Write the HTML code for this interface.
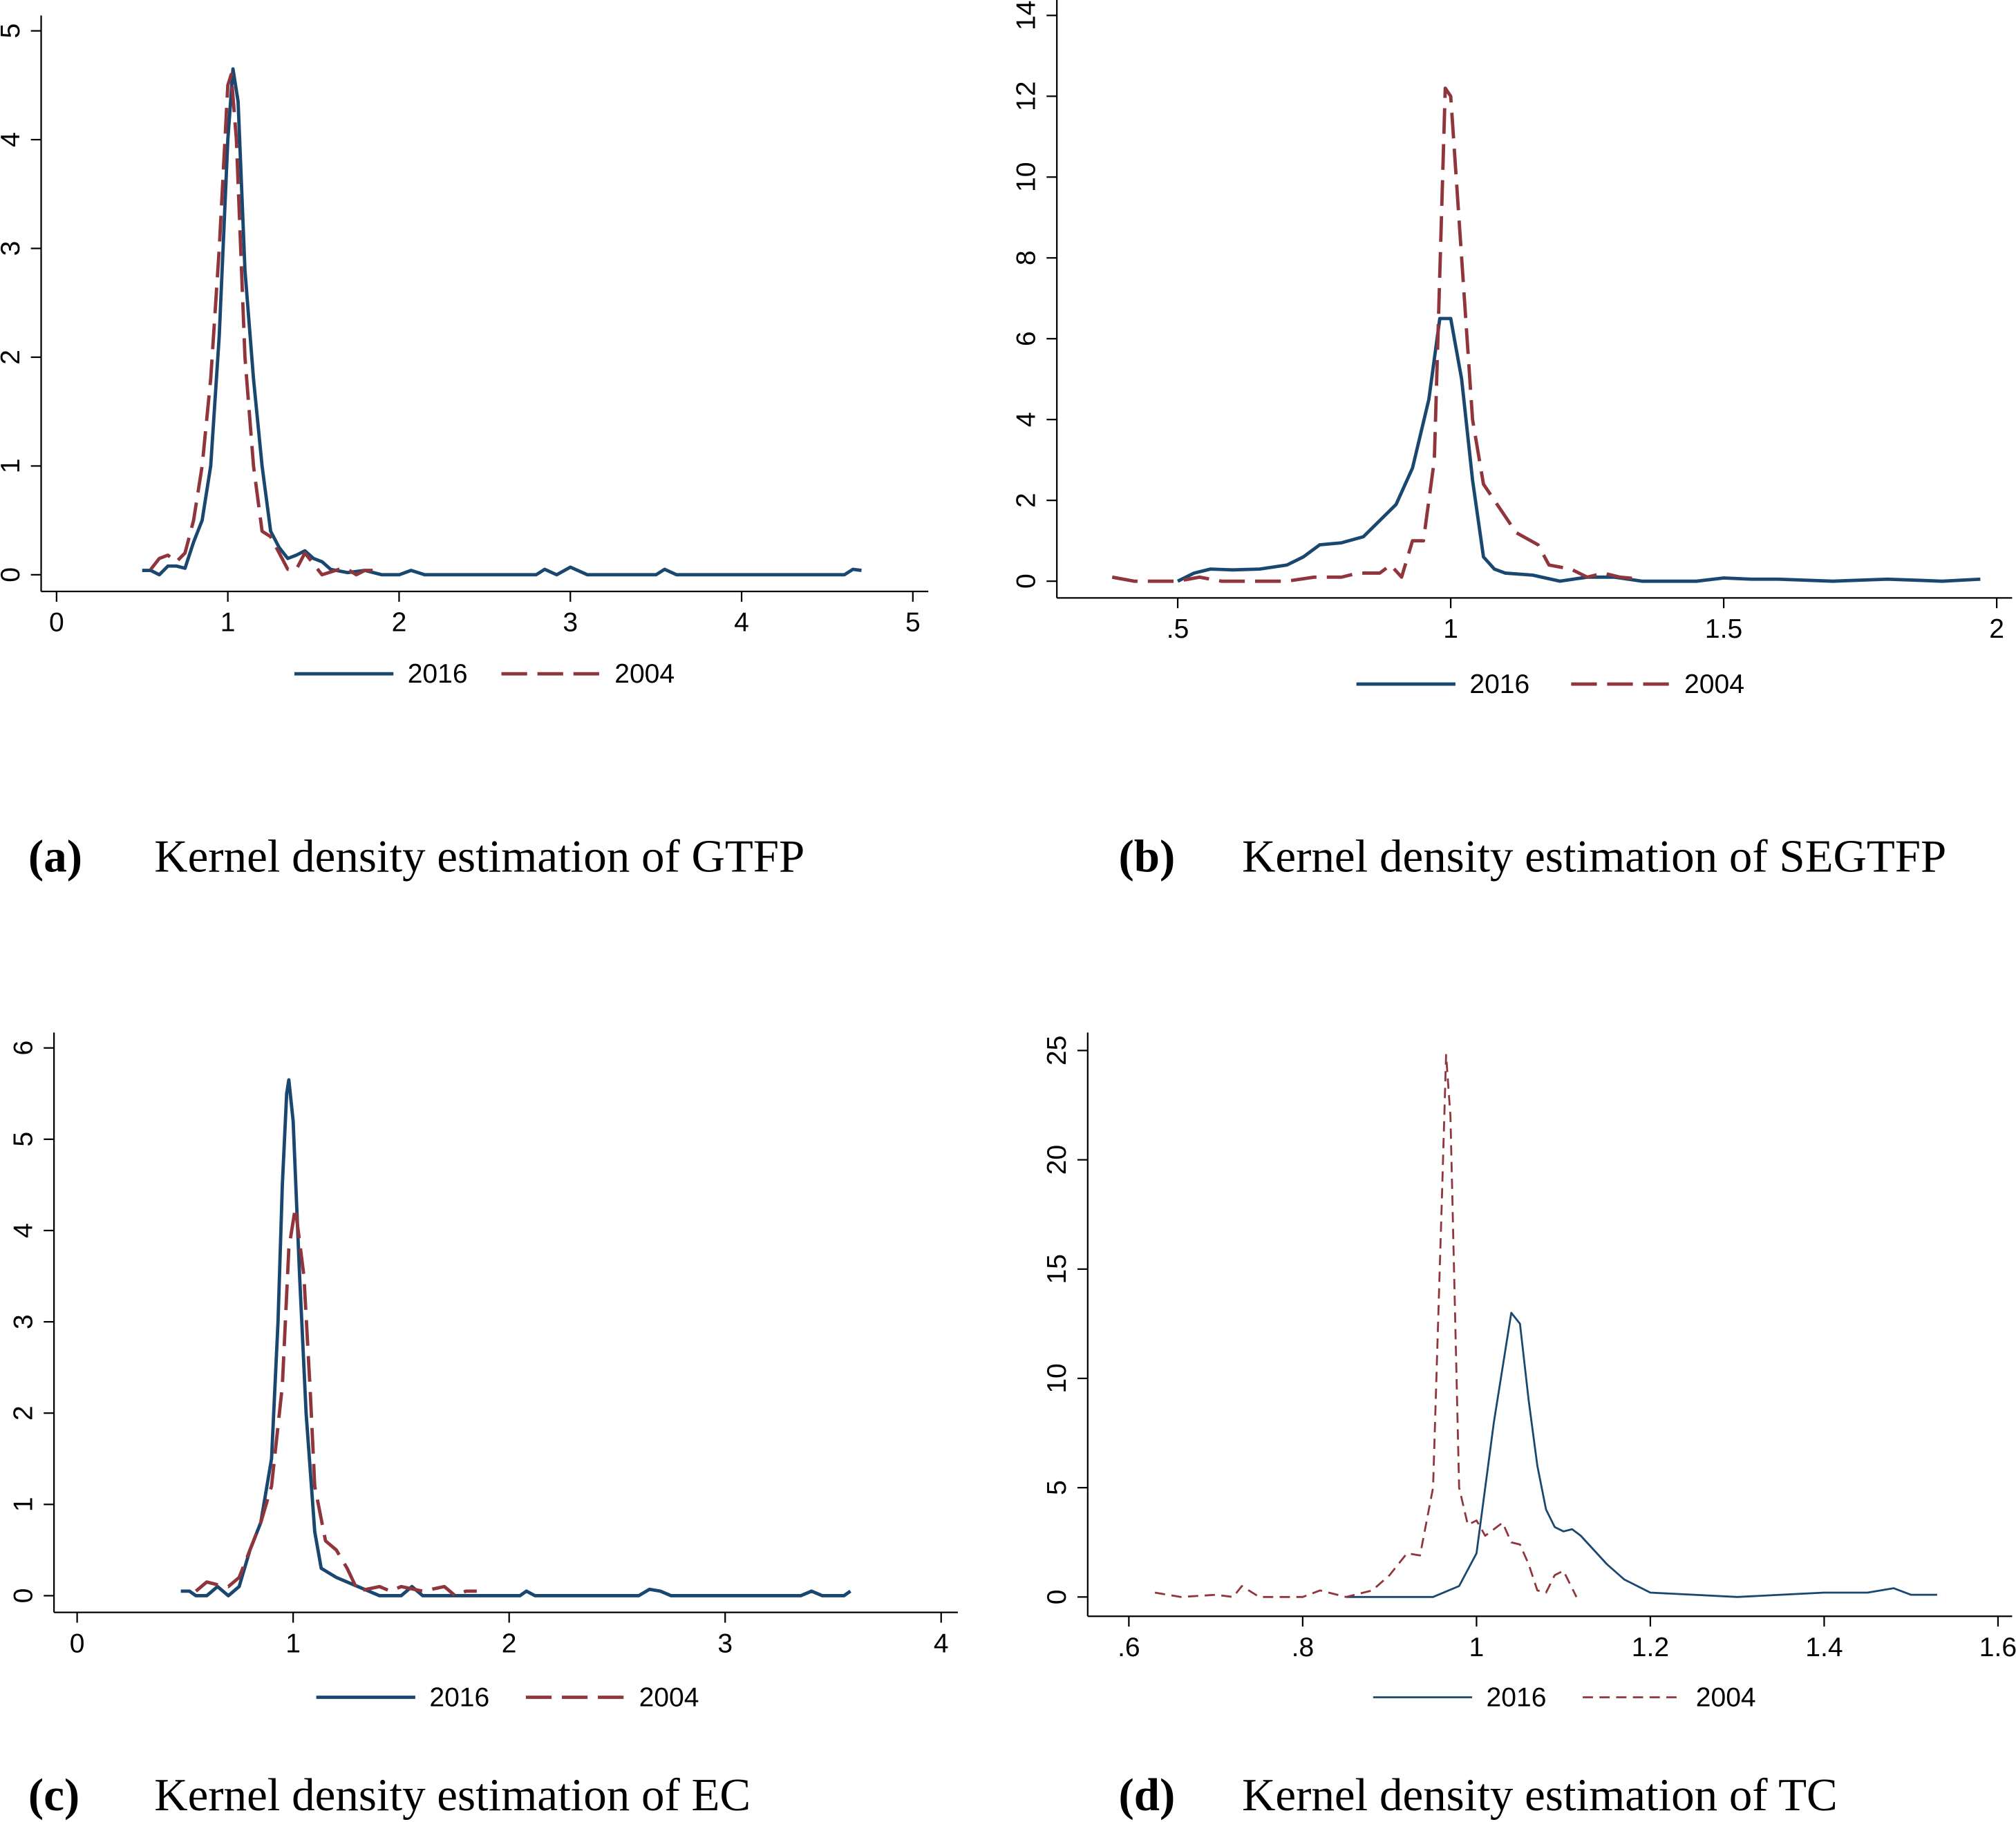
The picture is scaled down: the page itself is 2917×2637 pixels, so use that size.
<!DOCTYPE html>
<html><head><meta charset="utf-8"><style>
html,body{margin:0;padding:0;background:#fff}
svg{display:block}
text{font-family:"Liberation Sans",sans-serif}
.cap{font-family:"Liberation Serif",serif;font-size:36px}
</style></head><body>
<svg id="chart" width="2917" height="2637" viewBox="0 0 1568 1417" preserveAspectRatio="none" xmlns="http://www.w3.org/2000/svg">
<text class="cap" x="22" y="678" font-weight="bold">(a)</text>
<text class="cap" x="120" y="678">Kernel density estimation of GTFP</text>
<text class="cap" x="870" y="678" font-weight="bold">(b)</text>
<text class="cap" x="966" y="678">Kernel density estimation of SEGTFP</text>
<text class="cap" x="22" y="1408" font-weight="bold">(c)</text>
<text class="cap" x="120" y="1408">Kernel density estimation of EC</text>
<text class="cap" x="870" y="1408" font-weight="bold">(d)</text>
<text class="cap" x="966" y="1408">Kernel density estimation of TC</text>
</svg>
<script>
// Panel (a) GTFP
const aXTicks=[0,1,2,3,4,5];
const aYTicks=[0,1,2,3,4,5];
const a2016X=[0.5,0.55,0.6,0.65,0.7,0.75,0.8,0.85,0.9,0.95,1.0,1.03,1.06,1.1,1.15,1.2,1.25,1.3,1.35,1.4,1.45,1.5,1.55,1.6,1.7,1.8,1.9,2.0,2.07,2.15,2.8,2.85,2.92,3.0,3.1,3.5,3.55,3.62,4.6,4.65,4.7];
const a2016Y=[.04,.04,0,.08,.08,.06,.3,.5,1.0,2.2,4.0,4.65,4.35,2.8,1.8,1.0,.4,.25,.15,.18,.22,.15,.12,.05,.02,.04,0,0,.04,0,0,.05,0,.07,0,0,.05,0,0,.05,.04];
const a2004X=[0.55,0.6,0.65,0.7,0.75,0.8,0.85,0.9,0.95,1.0,1.02,1.05,1.1,1.15,1.2,1.25,1.3,1.35,1.4,1.45,1.5,1.55,1.65,1.7,1.75,1.8,1.85];
const a2004Y=[.05,.15,.18,.12,.2,.5,1.0,1.8,3.0,4.5,4.6,4.0,2.0,1.0,.4,.35,.2,.05,.05,.2,.1,0,.05,.05,0,.04,.04];
// Panel (b) SEGTFP
const bXTicks=[0.5,1,1.5,2];
const bXLabels=[".5","1","1.5","2"];
const bYTicks=[0,2,4,6,8,10,12,14];
const b2016X=[.5,.53,.56,.6,.65,.7,.73,.76,.8,.84,.87,.9,.93,.96,.98,1.0,1.02,1.04,1.06,1.08,1.1,1.15,1.2,1.25,1.3,1.35,1.45,1.5,1.55,1.6,1.7,1.8,1.9,1.97];
const b2016Y=[0,.2,.3,.28,.3,.4,.6,.9,.95,1.1,1.5,1.9,2.8,4.5,6.5,6.5,5.0,2.5,.6,.3,.2,.15,0,.1,.1,0,0,.08,.05,.05,0,.05,0,.05];
const b2004X=[.38,.42,.5,.54,.58,.7,.75,.8,.83,.87,.89,.91,.93,.95,.97,.99,1.0,1.02,1.04,1.06,1.09,1.12,1.16,1.18,1.22,1.25,1.28,1.31,1.35];
const b2004Y=[.1,0,0,.1,0,0,.1,.1,.2,.2,.4,.1,1.0,1.0,3.0,12.2,12.0,8.0,4.0,2.4,1.8,1.2,.9,.4,.3,.1,.2,.1,.05];
// Panel (c) EC
const cXTicks=[0,1,2,3,4];
const cYTicks=[0,1,2,3,4,5,6];
const c2016X=[0.48,0.52,0.55,0.6,0.65,0.7,0.75,0.8,0.85,0.9,0.93,0.95,0.97,0.98,1.0,1.03,1.06,1.1,1.13,1.2,1.3,1.35,1.4,1.5,1.55,1.6,2.05,2.08,2.12,2.6,2.65,2.7,2.75,3.35,3.4,3.45,3.55,3.58];
const c2016Y=[.05,.05,0,0,.1,0,.1,.5,.8,1.5,3.0,4.5,5.5,5.65,5.2,3.5,2.0,.7,.3,.2,.1,.05,0,0,.1,0,0,.05,0,0,.07,.05,0,0,.05,0,0,.05];
const c2004X=[0.55,0.6,0.65,0.7,0.75,0.8,0.85,0.9,0.95,0.98,1.01,1.05,1.08,1.1,1.15,1.2,1.25,1.3,1.4,1.45,1.5,1.6,1.7,1.75,1.8,1.85];
const c2004Y=[.05,.15,.12,.1,.2,.5,.8,1.2,2.3,3.8,4.25,3.5,2.2,1.2,.6,.5,.3,.05,.1,.05,.1,.05,.1,0,.05,.05];
// Panel (d) TC
const dXTicks=[0.6,0.8,1,1.2,1.4,1.6];
const dXLabels=[".6",".8","1","1.2","1.4","1.6"];
const dYTicks=[0,5,10,15,20,25];
const d2016X=[.85,.9,.95,.98,1.0,1.02,1.04,1.05,1.06,1.07,1.08,1.09,1.1,1.11,1.12,1.15,1.17,1.2,1.25,1.3,1.35,1.4,1.45,1.48,1.5,1.53];
const d2016Y=[0,0,0,.5,2.0,8.0,13.0,12.5,9.0,6.0,4.0,3.2,3.0,3.1,2.8,1.5,.8,.2,.1,0,.1,.2,.2,.4,.1,.1];
const d2004X=[.63,.66,.7,.72,.73,.75,.8,.82,.85,.88,.9,.92,.935,.95,.96,.965,.97,.98,.99,1.0,1.01,1.02,1.03,1.04,1.05,1.06,1.07,1.08,1.09,1.1,1.115];
const d2004Y=[.2,0,.1,0,.5,0,0,.3,0,.3,1.0,2.0,1.9,5.0,18,24.8,22,5.0,3.3,3.5,2.8,3.1,3.4,2.5,2.4,1.5,.3,.2,1.0,1.2,0];

const NS="http://www.w3.org/2000/svg";
const svg=document.getElementById('chart');
const BLUE="#1a476f",RED="#90353b";
function mk(tag,attrs,parent){const e=document.createElementNS(NS,tag);for(const k in attrs)e.setAttribute(k,attrs[k]);(parent||svg).appendChild(e);return e;}

function panel(id,P,xT,xL,yT,s16,s04,lg,thin){
  const g=mk('g',{});
  
  
  const sx=v=>P.x0p+(v-P.x0v)*(P.x1p-P.x0p)/(P.x1v-P.x0v);
  const sy=v=>P.y0p+(v-P.y0v)*(P.y1p-P.y0p)/(P.y1v-P.y0v);
  const ya=mk('line',{x1:P.ax,y1:P.top,x2:P.ax,y2:P.ay,stroke:'#000','stroke-width':1.2},g);
  
  const xa=mk('line',{x1:P.ax,y1:P.ay,x2:P.right,y2:P.ay,stroke:'#000','stroke-width':1.2},g);
  
  xT.forEach((v,i)=>{const x=sx(v);
    mk('line',{x1:x,y1:P.ay,x2:x,y2:P.ay+8,stroke:'#000','stroke-width':1.2},g);
    const t=mk('text',{x:x,y:P.ay+31,'text-anchor':'middle','font-size':21},g);
    t.textContent=xL?xL[i]:String(v);
    });
  yT.forEach(v=>{const y=sy(v);
    mk('line',{x1:P.ax-8,y1:y,x2:P.ax,y2:y,stroke:'#000','stroke-width':1.2},g);
    const t=mk('text',{x:0,y:0,'text-anchor':'middle','font-size':21,transform:`translate(${P.ax-17},${y}) rotate(-90)`},g);
    t.textContent=String(v);
    });
  const sw=thin?1.5:2.6, dash=thin?'8 5':'20 8';
  const l1=mk('polyline',{points:s16[0].map((v,i)=>sx(v)+','+sy(s16[1][i])).join(' '),fill:'none',stroke:BLUE,'stroke-width':sw,'stroke-linejoin':'round'},g);
  
  const l2=mk('polyline',{points:s04[0].map((v,i)=>sx(v)+','+sy(s04[1][i])).join(' '),fill:'none',stroke:RED,'stroke-width':sw,'stroke-dasharray':dash,'stroke-linejoin':'round'},g);
  
  const lb=mk('line',{x1:lg.b,y1:lg.y,x2:lg.b+77,y2:lg.y,stroke:BLUE,'stroke-width':sw},g);
  
  const t1=mk('text',{x:lg.b+88,y:lg.y+7,'font-size':21},g);t1.textContent='2016';
  
  const lr=mk('line',{x1:lg.r,y1:lg.y,x2:lg.r+77,y2:lg.y,stroke:RED,'stroke-width':sw,'stroke-dasharray':dash},g);
  
  const t2=mk('text',{x:lg.r+88,y:lg.y+7,'font-size':21},g);t2.textContent='2004';
  
}
panel('a',{ax:32,ay:460,top:12,right:722,x0v:0,x0p:44,x1v:5,x1p:710,y0v:0,y0p:447,y1v:5,y1p:24},aXTicks,null,aYTicks,[a2016X,a2016Y],[a2004X,a2004Y],{y:524,b:229,r:390});
panel('b',{ax:822,ay:465,top:0,right:1565,x0v:0.5,x0p:916,x1v:2,x1p:1553,y0v:0,y0p:452,y1v:14,y1p:12},bXTicks,bXLabels,bYTicks,[b2016X,b2016Y],[b2004X,b2004Y],{y:532,b:1055,r:1222});
panel('c',{ax:42,ay:1254,top:803,right:745,x0v:0,x0p:60,x1v:4,x1p:732,y0v:0,y0p:1241,y1v:6,y1p:815},cXTicks,null,cYTicks,[c2016X,c2016Y],[c2004X,c2004Y],{y:1320,b:246,r:409});
panel('d',{ax:846,ay:1257,top:803,right:1565,x0v:0.6,x0p:878,x1v:1.6,x1p:1554,y0v:0,y0p:1242,y1v:25,y1p:817},dXTicks,dXLabels,dYTicks,[d2016X,d2016Y],[d2004X,d2004Y],{y:1320,b:1068,r:1231},true);
</script>
</body></html>
